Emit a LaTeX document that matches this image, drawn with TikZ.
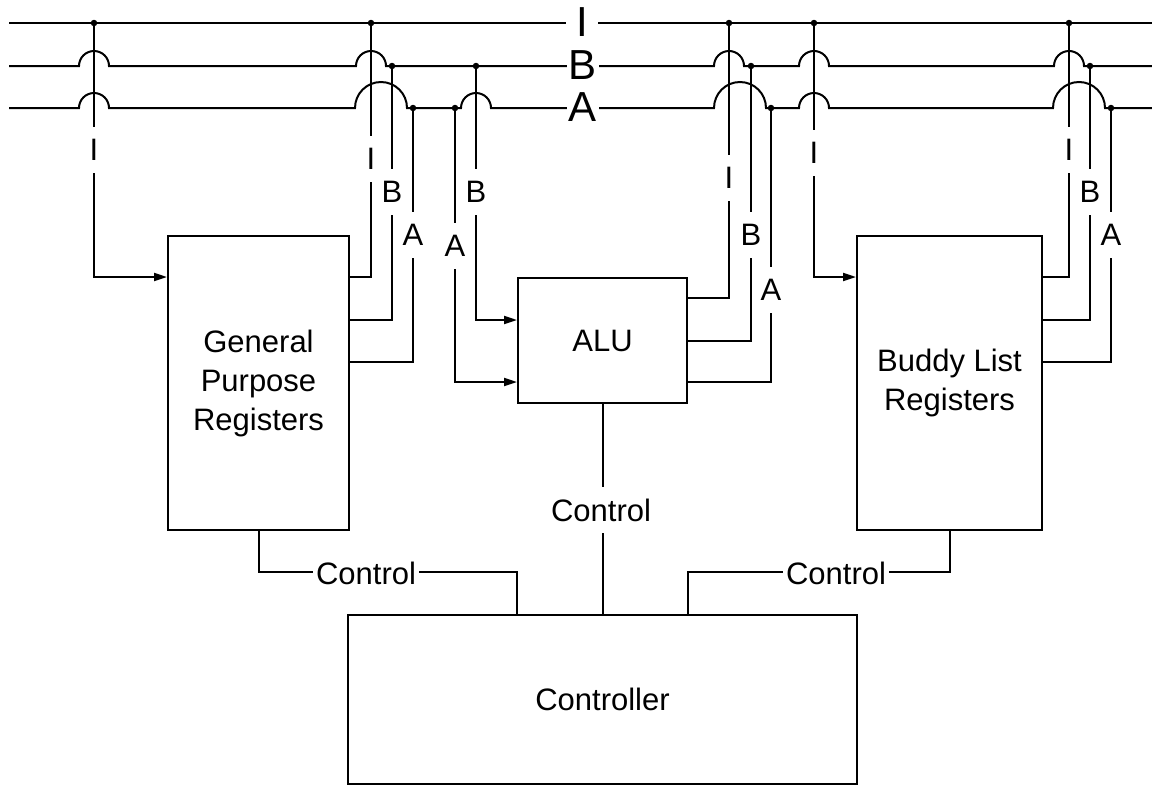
\documentclass[tikz,border=0pt]{standalone}
\usepackage{fontspec}
\setmainfont{Liberation Sans}
\usetikzlibrary{arrows.meta,calc}
\begin{document}
\begin{tikzpicture}[x=1pt,y=-1pt,
  wire/.style={line width=2pt},
  box/.style={draw, line width=2pt, inner sep=0pt, align=center, font=\fontsize{31}{39}\selectfont},
  tap/.style={fill=white, inner xsep=2pt, inner ysep=12pt, font=\fontsize{31}{37}\selectfont},
  buslbl/.style={fill=white, inner sep=0pt, minimum width=32pt, minimum height=38pt, font=\fontsize{42}{50}\selectfont},
  ctllbl/.style={fill=white, inner xsep=3pt, inner ysep=2pt, font=\fontsize{31}{37}\selectfont},
  dot/.style={circle, fill, inner sep=0pt, minimum size=6.5pt},
  arr/.style={wire, -{Triangle[length=13pt,width=8pt]}}
]
\useasboundingbox (0,0) rectangle (1152,785);

% boxes
\node[box, minimum width=181pt, minimum height=294pt] (gpr) at (258.5,383) {General\\Purpose\\Registers};
\node[box, minimum width=169pt, minimum height=125pt] (alu) at (602.5,340.5) {ALU};
\node[box, minimum width=185pt, minimum height=294pt] (bud) at (949.5,383) {Buddy List\\Registers};
\node[box, minimum width=509pt, minimum height=169pt] (ctl) at (602.5,699.5) {Controller};

% buses
\draw[wire] (9,23) -- (1152,23);
\draw[wire] (9,66) -- (79,66) arc[start angle=180,end angle=0,radius=15pt]
  -- (356,66) arc[start angle=180,end angle=0,radius=15pt]
  -- (714,66) arc[start angle=180,end angle=0,radius=15pt]
  -- (799,66) arc[start angle=180,end angle=0,radius=15pt]
  -- (1054,66) arc[start angle=180,end angle=0,radius=15pt]
  -- (1152,66);
\draw[wire] (9,108) -- (79,108) arc[start angle=180,end angle=0,radius=15pt]
  -- (355,108) arc[start angle=180,end angle=0,radius=26pt]
  -- (461,108) arc[start angle=180,end angle=0,radius=15pt]
  -- (714,108) arc[start angle=180,end angle=0,radius=26pt]
  -- (799,108) arc[start angle=180,end angle=0,radius=15pt]
  -- (1053,108) arc[start angle=180,end angle=0,radius=26pt]
  -- (1152,108);

% junction coordinates
\coordinate (i1) at (94,23);
\coordinate (i2) at (371,23);
\coordinate (i3) at (729,23);
\coordinate (i4) at (814,23);
\coordinate (i5) at (1069,23);
\coordinate (b1) at (392,66);
\coordinate (b2) at (476,66);
\coordinate (b3) at (751,66);
\coordinate (b4) at (1090,66);
\coordinate (a1) at (413,108);
\coordinate (a2) at (455,108);
\coordinate (a3) at (771,108);
\coordinate (a4) at (1111,108);

% GPR connections
\draw[arr] (i1) |- ($(gpr.north west)+(0,42)$);
\draw[wire] ($(gpr.north east)+(0,42)$) -| (i2);
\draw[wire] ($(gpr.north east)+(0,85)$) -| (b1);
\draw[wire] ($(gpr.north east)+(0,127)$) -| (a1);

% ALU connections
\draw[arr] (b2) |- ($(alu.north west)+(0,43)$);
\draw[arr] (a2) |- ($(alu.north west)+(0,105)$);
\draw[wire] ($(alu.north east)+(0,21)$) -| (i3);
\draw[wire] ($(alu.north east)+(0,64)$) -| (b3);
\draw[wire] ($(alu.north east)+(0,105)$) -| (a3);

% Buddy connections
\draw[arr] (i4) |- ($(bud.north west)+(0,42)$);
\draw[wire] ($(bud.north east)+(0,42)$) -| (i5);
\draw[wire] ($(bud.north east)+(0,85)$) -| (b4);
\draw[wire] ($(bud.north east)+(0,127)$) -| (a4);

% control lines
\coordinate (cl) at (alu.south west |- ctl.north);
\coordinate (cr) at (alu.south east |- ctl.north);
\draw[wire] (gpr.south) |- ($(cl)+(0,-42)$) -- (cl);
\draw[wire] (alu.south) -- (ctl.north);
\draw[wire] (bud.south) |- ($(cr)+(0,-42)$) -- (cr);

% dots
\foreach \p in {i1,i2,i3,i4,i5,b1,b2,b3,b4,a1,a2,a3,a4}
  \node[dot] (d\p) at (\p) {};

% bus labels
\node[buslbl] (lI) at (582,22) {I};
\node[buslbl] (lB) at (583,65) {B};
\node[buslbl] (lA) at (583,107) {A};

% tap labels
\node[tap] (t1) at (94,150) {I};
\node[tap] (t2) at (371,159) {I};
\node[tap] (t3) at (392,192) {B};
\node[tap] (t4) at (413,235) {A};
\node[tap] (t5) at (455,246) {A};
\node[tap] (t6) at (476,192) {B};
\node[tap] (t7) at (729,178) {I};
\node[tap] (t8) at (751,235) {B};
\node[tap] (t9) at (771,290) {A};
\node[tap] (t10) at (814,153) {I};
\node[tap] (t11) at (1069,150) {I};
\node[tap] (t12) at (1090,192) {B};
\node[tap] (t13) at (1111,235) {A};

% control labels
\node[ctllbl] (c1) at (366,573) {Control};
\node[ctllbl, inner ysep=12pt] (c2) at (601,510) {Control};
\node[ctllbl] (c3) at (836,573) {Control};
\end{tikzpicture}
\end{document}
